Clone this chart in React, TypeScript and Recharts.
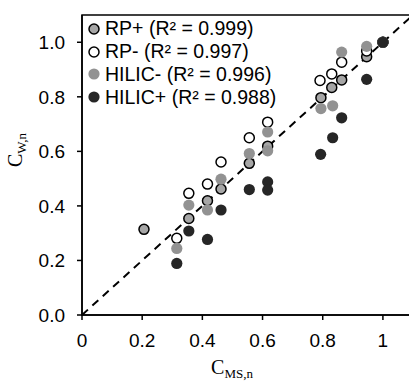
import {
  Legend,
  ReferenceArea,
  ReferenceLine,
  Scatter,
  ScatterChart,
  XAxis,
  YAxis,
} from "recharts";

const xTicks = [0, 0.2, 0.4, 0.6, 0.8, 1];
const xTickLabels = ["0", "0.2", "0.4", "0.6", "0.8", "1"];
const yTicks = [0, 0.2, 0.4, 0.6, 0.8, 1];
const yTickLabels = ["0.0", "0.2", "0.4", "0.6", "0.8", "1.0"];

const seriesNames = ["RP+", "RP-", "HILIC-", "HILIC+"];
const rSquared = ["0.999", "0.997", "0.996", "0.988"];

const rpPos = [
  { x: 0.206, y: 0.314 },
  { x: 0.355, y: 0.354 },
  { x: 0.417, y: 0.419 },
  { x: 0.462, y: 0.462 },
  { x: 0.556, y: 0.556 },
  { x: 0.617, y: 0.619 },
  { x: 0.794, y: 0.797 },
  { x: 0.83, y: 0.834 },
  { x: 0.863, y: 0.862 },
  { x: 0.946, y: 0.947 },
  { x: 1.0, y: 1.0 },
];

const rpNeg = [
  { x: 0.315, y: 0.281 },
  { x: 0.355, y: 0.446 },
  { x: 0.417, y: 0.48 },
  { x: 0.462, y: 0.561 },
  { x: 0.556, y: 0.65 },
  { x: 0.617, y: 0.707 },
  { x: 0.791, y: 0.86 },
  { x: 0.83, y: 0.884 },
  { x: 0.863, y: 0.927 },
  { x: 0.946, y: 0.968 },
  { x: 1.0, y: 1.0 },
];

const hilicNeg = [
  { x: 0.315, y: 0.244 },
  { x: 0.355, y: 0.403 },
  { x: 0.417, y: 0.385 },
  { x: 0.462, y: 0.498 },
  { x: 0.556, y: 0.592 },
  { x: 0.617, y: 0.671 },
  { x: 0.617, y: 0.602 },
  { x: 0.794, y: 0.757 },
  { x: 0.833, y: 0.767 },
  { x: 0.863, y: 0.964 },
  { x: 0.946, y: 0.985 },
  { x: 1.0, y: 1.0 },
];

const hilicPos = [
  { x: 0.315, y: 0.189 },
  { x: 0.355, y: 0.308 },
  { x: 0.417, y: 0.277 },
  { x: 0.462, y: 0.385 },
  { x: 0.556, y: 0.46 },
  { x: 0.617, y: 0.488 },
  { x: 0.617, y: 0.458 },
  { x: 0.793, y: 0.589 },
  { x: 0.833, y: 0.65 },
  { x: 0.863, y: 0.723 },
  { x: 0.946, y: 0.864 },
  { x: 1.0, y: 1.0 },
];

const markers = [
  { fill: "#a6a6a6", stroke: "#000", r: 5, sw: 1.5 },
  { fill: "#fff", stroke: "#000", r: 5, sw: 1.5 },
  { fill: "#929292", stroke: "none", r: 5.6, sw: 0 },
  { fill: "#262626", stroke: "none", r: 5.6, sw: 0 },
];

const sans = "'Liberation Sans', Arial, sans-serif";
const serif = "'Liberation Serif', 'Times New Roman', serif";

const dot = (i: number) => (props: any) => {
  const m = markers[i];
  return (
    <circle
      cx={props.cx}
      cy={props.cy}
      r={m.r}
      fill={m.fill}
      stroke={m.stroke}
      strokeWidth={m.sw}
    />
  );
};

const LegendBox = () => (
  <div style={{ fontFamily: sans, fontSize: 19.5, color: "#000" }}>
    {seriesNames.map((name, i) => {
      const m = markers[i];
      return (
        <div
          key={name}
          style={{
            display: "flex",
            alignItems: "center",
            height: 22.7,
            whiteSpace: "nowrap",
          }}
        >
          <svg width={14} height={14} style={{ flex: "none" }}>
            <circle
              cx={7}
              cy={7}
              r={m.r}
              fill={m.fill}
              stroke={m.stroke}
              strokeWidth={m.sw}
            />
          </svg>
          <span style={{ marginLeft: 4 }}>
            {name} (R² = {rSquared[i]})
          </span>
        </div>
      );
    })}
  </div>
);

export default function App() {
  const all = [rpPos, rpNeg, hilicNeg, hilicPos];
  return (
    <div
      style={{
        position: "absolute",
        left: 0,
        top: 0,
        width: 409,
        height: 383,
        overflow: "hidden",
        background: "#fff",
      }}
    >
      <ScatterChart
        width={420}
        height={383}
        margin={{ top: 15, right: 7, left: 0, bottom: 0 }}
      >
        <ReferenceArea
          x1={0}
          x2={1.1}
          y1={0}
          y2={1.1}
          fill="none"
          stroke="#000"
          strokeWidth={1.5}
        />
        <XAxis
          type="number"
          dataKey="x"
          domain={[0, 1.1]}
          ticks={xTicks}
          interval={0}
          allowDataOverflow
          height={68}
          tickSize={5}
          tickMargin={14}
          tickFormatter={(v: number) => xTickLabels[xTicks.indexOf(v)]}
          tick={{ fill: "#000", fontSize: 19, fontFamily: sans }}
          axisLine={{ stroke: "#000", strokeWidth: 1.5 }}
          tickLine={{ stroke: "#000", strokeWidth: 1.5 }}
        />
        <YAxis
          type="number"
          dataKey="y"
          domain={[0, 1.1]}
          ticks={yTicks}
          interval={0}
          allowDataOverflow
          width={82}
          tickSize={5}
          tickMargin={12}
          tickFormatter={(v: number) => yTickLabels[yTicks.indexOf(v)]}
          tick={{ fill: "#000", fontSize: 19, fontFamily: sans }}
          axisLine={{ stroke: "#000", strokeWidth: 1.5 }}
          tickLine={{ stroke: "#000", strokeWidth: 1.5 }}
        />
        <ReferenceLine
          segment={[
            { x: 0, y: 0 },
            { x: 1.1, y: 1.1 },
          ]}
          stroke="#000"
          strokeWidth={2}
          strokeDasharray="8 6"
        />
        {all.map((data, i) => (
          <Scatter
            key={seriesNames[i]}
            name={seriesNames[i]}
            data={data}
            shape={dot(i)}
            isAnimationActive={false}
          />
        ))}
        <Legend
          layout="vertical"
          align="center"
          verticalAlign="middle"
          wrapperStyle={{ left: 87, top: 17.6, width: "auto" }}
          content={() => <LegendBox />}
        />
        <text
          x={232}
          y={374}
          textAnchor="middle"
          fontFamily={serif}
          fontSize={20}
          fill="#000"
        >
          <tspan>C</tspan>
          <tspan fontSize={13} dy={3.5}>
            MS,n
          </tspan>
        </text>
        <text
          x={22}
          y={150}
          textAnchor="middle"
          transform="rotate(-90, 22, 150)"
          fontFamily={serif}
          fontSize={20}
          fill="#000"
        >
          <tspan>C</tspan>
          <tspan fontSize={13} dy={4}>
            W,n
          </tspan>
        </text>
      </ScatterChart>
    </div>
  );
}
